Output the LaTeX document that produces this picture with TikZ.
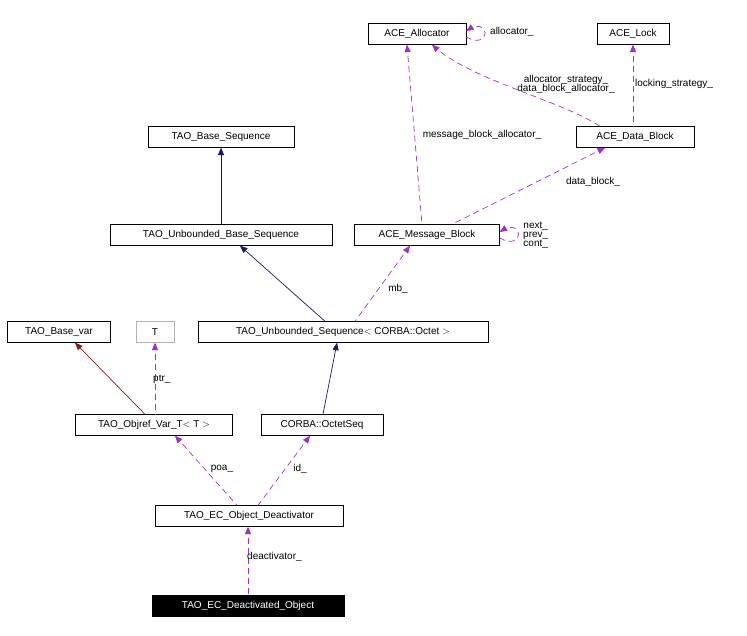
\documentclass[tikz,border=0pt]{standalone}
\usepackage{fontspec}
\setmainfont{Liberation Sans}
\usetikzlibrary{arrows}
\definecolor{inh}{HTML}{191970}
\definecolor{use}{HTML}{9A32CD}
\definecolor{priv}{HTML}{8B1A1A}
\tikzset{
  cls/.style={draw, fill=white, inner sep=0pt, minimum height=21pt, font=\fontsize{10}{11}\selectfont},
  inherit/.style={<-, >=triangle 45, draw=inh, line width=0.7pt},
  usage/.style={<-, >=triangle 45, draw=use, line width=0.7pt, dash pattern=on 6pt off 4pt},
  lbl/.style={font=\fontsize{10}{11}\selectfont, align=center, inner sep=1pt}
}
\begin{document}
\begin{tikzpicture}[x=1pt, y=-1pt]
\useasboundingbox (0,0) rectangle (747,635);
\node[cls, minimum width=98pt] (alloc) at (417,34) {ACE\_Allocator};
\node[cls, minimum width=72pt] (lock) at (633,34) {ACE\_Lock};
\node[cls, minimum width=146pt] (tbs) at (221,137) {TAO\_Base\_Sequence};
\node[cls, minimum width=118pt] (adb) at (635,137) {ACE\_Data\_Block};
\node[cls, minimum width=222pt] (tubs) at (221,235) {TAO\_Unbounded\_Base\_Sequence};
\node[cls, minimum width=145pt] (amb) at (427,235) {ACE\_Message\_Block};
\node[cls, minimum width=103pt] (tbv) at (59,332) {TAO\_Base\_var};
\node[cls, minimum width=38pt, draw=gray!60] (t) at (155,332) {T};
\node[cls, minimum width=290pt] (tus) at (343,332) {TAO\_Unbounded\_Sequence$<$ CORBA::Octet $>$};
\node[cls, minimum width=157pt] (ovt) at (154,425) {TAO\_Objref\_Var\_T$<$ T $>$};
\node[cls, minimum width=122pt] (oseq) at (322,425) {CORBA::OctetSeq};
\node[cls, minimum width=188pt] (deact) at (249,516) {TAO\_EC\_Object\_Deactivator};
\node[cls, minimum width=192pt, fill=black, text=white] (dobj) at (248,606) {TAO\_EC\_Deactivated\_Object};

% inheritance
\draw[inherit] (tbs) -- (tubs);
\draw[inherit] (tubs.south -| 240,0) -- (tus.north -| 325,0);
\draw[inherit] (tus.south -| 337,0) -- (oseq.north -| 323,0);
\draw[<-, >=triangle 45, draw=priv, line width=0.7pt] (tbv.south -| 75,0) -- (ovt.north -| 145,0);

% usage
\draw[usage] (amb.south -| 410,0) -- (tus.north -| 355,0);
\node[lbl] (mbl) at (398,289) {mb\_};
\draw[usage] (alloc.south -| 407,0) -- (amb.north -| 422,0);
\node[lbl] (mbal) at (482,135) {message\_block\_allocator\_};
\draw[usage] ([yshift=3pt]alloc.east) .. controls +(25,-16) and +(25,14) .. ([yshift=-3pt]alloc.east);
\node[lbl, anchor=west] (allocl) at (489,32) {allocator\_};
\draw[usage] (alloc.south -| 432,0) .. controls (470,80) and (560,100) .. (adb.north -| 600,0);
\node[lbl] (adbl) at (566,84) {allocator\_strategy\_\\[-2pt]data\_block\_allocator\_};
\draw[usage] (lock) -- (adb.north -| 633,0);
\node[lbl, anchor=west] (lockl) at (634,84) {locking\_strategy\_};
\draw[usage] (adb.south -| 605,0) -- (amb.north -| 452,0);
\node[lbl] (dbl) at (593,182) {data\_block\_};
\draw[usage] ([yshift=3pt]amb.east) .. controls +(25,-16) and +(25,14) .. ([yshift=-3pt]amb.east);
\node[lbl, anchor=west] (ambl) at (522,235) {next\_\\[-2pt]prev\_\\[-2pt]cont\_};
\draw[usage] (t) -- (ovt.north -| 155,0);
\node[lbl, anchor=west] (ptrl) at (152,379) {ptr\_};
\draw[usage] (ovt.south -| 175,0) -- (deact.north -| 237,0);
\node[lbl] (poal) at (222,469) {poa\_};
\draw[usage] (oseq.south -| 310,0) -- (deact.north -| 258,0);
\node[lbl] (idl) at (300,469) {id\_};
\draw[usage] (deact.south -| 248,0) -- (dobj);
\node[lbl, anchor=west] (deacl) at (246,557) {deactivator\_};
\end{tikzpicture}
\end{document}
